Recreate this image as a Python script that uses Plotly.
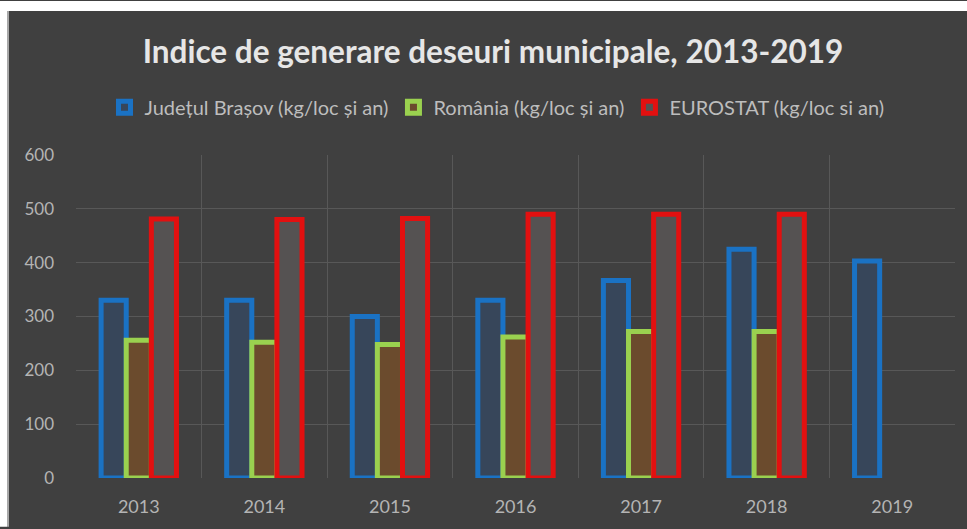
import plotly.graph_objects as go

years = ["2013", "2014", "2015", "2016", "2017", "2018", "2019"]
brasov = [330, 330, 300, 330, 367, 425, 403]
romania = [256, 252, 248, 262, 272, 272, None]
eurostat = [481, 480, 482, 490, 490, 490, None]

names = ["Județul Brașov (kg/loc și an)", "România (kg/loc și an)", "EUROSTAT (kg/loc si an)"]
line_colors = ["#1a72c4", "#9ad14f", "#e21010"]
fill_colors = ["#37465a", "#6b4b2d", "#555252"]

fig = go.Figure()
for vals, nm, lc, fc in zip([brasov, romania, eurostat], names, line_colors, fill_colors):
    fig.add_trace(go.Bar(x=years, y=vals, name=nm,
                         marker=dict(color=fc, line=dict(color=lc, width=5))))

W, H = 967, 529
L, R, T, B = 76, 12, 155, 49
pw, ph = W - L - R, H - T - B

def px_x(p):
    return (p - L) / pw

def px_y(p):
    return (H - B - p) / ph

bg = "#404040"
fig.update_layout(
    width=W, height=H,
    margin=dict(l=L, r=R, t=T, b=B),
    paper_bgcolor=bg, plot_bgcolor=bg,
    barmode="group", bargap=0.4, bargroupgap=0,
    font=dict(family="Lato", color="#b8b8b8"),
    title=dict(text="<b>Indice de generare deseuri municipale, 2013-2019</b>",
               x=px_x(493), xref="paper", xanchor="center",
               y=1 - 52 / H, yanchor="middle",
               font=dict(size=31.5, color="#e6e6e6", family="Lato")),
    legend=dict(orientation="h", x=px_x(497), xanchor="center", xref="paper",
                y=px_y(107), yanchor="middle",
                font=dict(size=20, color="#bdbdbd"), itemwidth=30,
                bgcolor="rgba(0,0,0,0)", traceorder="normal"),
    xaxis=dict(type="category", tickson="boundaries", showgrid=True,
               gridcolor="#585858", gridwidth=1, ticks="", showline=False,
               tickfont=dict(size=18, color="#b4b4b4"), zeroline=False,
               ticklabelstandoff=16),
    yaxis=dict(range=[0, 600], dtick=100, showgrid=True, gridcolor="#585858",
               gridwidth=1, zeroline=False, ticks="", showline=False,
               tickfont=dict(size=17, color="#b4b4b4"), ticklabelstandoff=21),
    shapes=[
        dict(type="rect", xref="paper", yref="paper", x0=px_x(0), x1=px_x(W),
             y0=px_y(10), y1=px_y(0), fillcolor="white", line=dict(width=0), layer="above"),
        dict(type="rect", xref="paper", yref="paper", x0=px_x(0), x1=px_x(7),
             y0=px_y(H), y1=px_y(0), fillcolor="white", line=dict(width=0), layer="above"),
        dict(type="rect", xref="paper", yref="paper", x0=px_x(7), x1=px_x(9),
             y0=px_y(H), y1=px_y(10), fillcolor="#a8a8a8", line=dict(width=0), layer="above"),
    ],
)

fig.write_html("out.html", config={"displayModeBar": False},
               post_script="document.body.style.margin='0';document.body.style.overflow='hidden';")
